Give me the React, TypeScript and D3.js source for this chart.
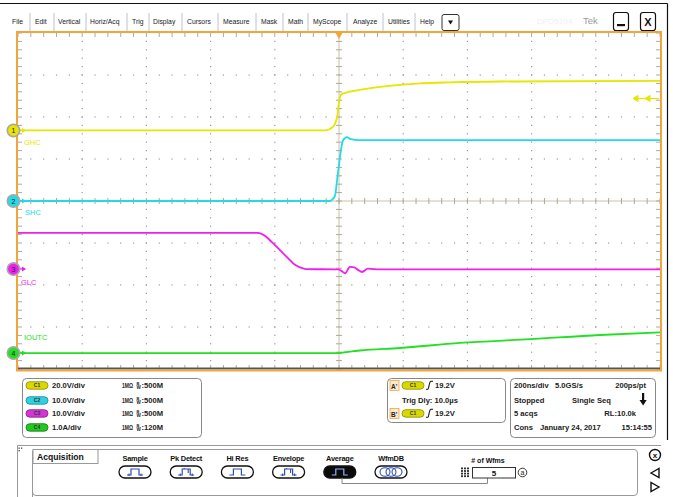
import React from "react";
import * as d3 from "d3";

// ---------------- DATA ----------------
const menuItems = ["File", "Edit", "Vertical", "Horiz/Acq", "Trig", "Display", "Cursors", "Measure", "Mask", "Math", "MyScope", "Analyze", "Utilities", "Help"];

// time in ns relative to trigger (200 ns/div)
const c1Time = [-1000, -44, -19, -6, 0, 6, 19, 65, 128, 190, 252, 346, 502, 1000];
const c1Volts = [0, 0, 1.7, 6.4, 13.6, 16.9, 17.9, 19.3, 20.7, 21.7, 22.4, 22.9, 23.3, 23.6];

const c2Time = [-1000, -28, -19, -12, -6, 0, 6, 12, 19, 25, 34, 65, 1000];
const c2Volts = [0, 0, 0.5, 1.4, 5.0, 8.6, 12.1, 14.3, 15.0, 15.2, 14.8, 14.5, 14.5];

const c3Time = [-1000, -252, -231, -209, -184, -159, -137, -121, -103, -3, 9, 19, 34, 47, 59, 72, 90, 128, 1000];
const c3Volts = [8.6, 8.6, 7.9, 6.4, 4.5, 2.6, 1.0, 0.4, 0, -0.1, -0.5, -1.0, 0.5, 0.4, -0.2, -0.7, 0.1, -0.1, -0.1];

const c4Time = [-1000, -3, 19, 65, 190, 377, 595, 813, 1000];
const c4Amps = [0, 0, 0.02, 0.06, 0.12, 0.24, 0.33, 0.43, 0.49];

const chanScale = ["20.0V/div", "10.0V/div", "10.0V/div", "1.0A/div"];
const chanImp = ["1MΩ", "1MΩ", "1MΩ", "1MΩ"];
const chanBw = [":500M", ":500M", ":500M", ":120M"];
const chanLabels = ["GHC", "SHC", "GLC", "IOUTC"];

const trigLevel = "19.2V";
const trigDelay = "Trig Dly: 10.0µs";
const horiz = ["200ns/div", "5.0GS/s", "200ps/pt", "Stopped", "Single Seq", "5 acqs", "RL:10.0k", "Cons", "January 24, 2017", "15:14:55"];
const acqModes = ["Sample", "Pk Detect", "Hi Res", "Envelope", "Average", "WfmDB"];
const numWfms = "5";

// ---------------- LAYOUT / STYLE ----------------
const W = 673, H = 497;
const PL = 18, PR = 660, PT = 33, PB = 369;
const ORANGE = "#f2a63a";
const COLORS = ["#e6e600", "#22dbe6", "#f01ef0", "#22e022"];
const PILL = ["#d9d900", "#2fd0e0", "#d436d4", "#20c820"];
const PILL_DARK = ["#8a8a00", "#148a96", "#861e86", "#137a13"];
const FONT = "'Liberation Sans', Arial, sans-serif";
const MENU_X = [12, 35, 58, 90, 132, 153, 187, 223, 261, 288, 313, 353, 388, 420];
const MENU_SEP = [30, 54, 86, 127, 149, 182, 218, 256, 283, 308, 347, 383, 415];

function Pill({ x, y, i }: { x: number; y: number; i: number }) {
  return (
    <g>
      <rect x={x} y={y - 3.5} width={22} height={7.5} rx={3.7} fill={PILL[i]} stroke={PILL_DARK[i]} strokeWidth={0.8} />
      <text x={x + 11} y={y + 2} fontSize={5} fontFamily={FONT} fontWeight="bold" textAnchor="middle" fill="#333">{`C${i + 1}`}</text>
    </g>
  );
}

function EdgeGlyph({ x, y }: { x: number; y: number }) {
  return <path d={`M${x},${y + 4} L${x + 2},${y + 4} C${x + 3},${y + 4} ${x + 3},${y - 4} ${x + 5},${y - 4} L${x + 7},${y - 4}`} fill="none" stroke="#111" strokeWidth={1.1} />;
}

function AcqIcon({ cx, cy, kind, selected }: { cx: number; cy: number; kind: number; selected: boolean }) {
  const blue = selected ? "#8fb0ff" : "#2f4fb0";
  const w = 32, h = 12;
  let icon: React.ReactNode;
  if (kind === 5) {
    icon = (
      <g fill="none" stroke={blue} strokeWidth={1.1}>
        <ellipse cx={cx - 6} cy={cy} rx={5} ry={4.2} />
        <ellipse cx={cx} cy={cy} rx={5} ry={4.2} />
        <ellipse cx={cx + 6} cy={cy} rx={5} ry={4.2} />
      </g>
    );
  } else {
    const base = cy + 3, top = cy - 3;
    const d = `M${cx - 8},${base} L${cx - 4},${base} L${cx - 4},${top} L${cx + 4},${top} L${cx + 4},${base} L${cx + 8},${base}`;
    let extra: React.ReactNode = null;
    if (kind === 0 || kind === 1 || kind === 3) {
      extra = (
        <path d={`M${cx - 6},${base + 1} L${cx - 6},${base - 1.5} M${cx + 6},${base + 1} L${cx + 6},${base - 1.5} ${kind >= 1 ? `M${cx + 2},${top} L${cx + 2},${cy + 1} M${cx - 2},${top} L${cx - 2},${top - 1}` : ""}`} stroke={blue} strokeWidth={1.1} />
      );
    }
    icon = (
      <g>
        <path d={d} fill="none" stroke={blue} strokeWidth={1.2} />
        {extra}
      </g>
    );
  }
  return (
    <g>
      <rect x={cx - w / 2} y={cy - h / 2} width={w} height={h} rx={6} fill={selected ? "#0a0a0a" : "#fff"} stroke="#111" strokeWidth={1.3} />
      {icon}
    </g>
  );
}

export default function App() {
  const x = d3.scaleLinear().domain([-1000, 1000]).range([PL, PR]);
  const yDiv = d3.scaleLinear().domain([-4, 4]).range([PB, PT]);

  const channels = [
    { t: c1Time, v: c1Volts, perDiv: 20, off: 1.68 },
    { t: c2Time, v: c2Volts, perDiv: 10, off: 0 },
    { t: c3Time, v: c3Volts, perDiv: 10, off: -1.62 },
    { t: c4Time, v: c4Amps, perDiv: 1, off: -3.62 },
  ];

  const xDiv = d3.scaleLinear().domain([-5, 5]).range([PL, PR]);
  const majorX = d3.range(-5, 6).map((d) => xDiv(d));
  const majorY = d3.range(-4, 5).map((d) => yDiv(d));
  const minorX = d3.range(-25, 26).map((d) => xDiv(d / 5));
  const minorY = d3.range(-20, 21).map((d) => yDiv(d / 5));
  const cx0 = xDiv(0), cy0 = yDiv(0);

  const dots: React.ReactNode[] = [];
  majorY.forEach((yy, i) => {
    if (i === 0 || i === majorY.length - 1 || Math.abs(yy - cy0) < 1) return;
    minorX.forEach((xx, j) => {
      if (j === 0 || j === minorX.length - 1) return;
      dots.push(<rect key={`hy${i}-${j}`} x={xx - 0.6} y={yy - 0.6} width={1.2} height={1.2} fill="#9a9a9a" />);
    });
  });
  majorX.forEach((xx, i) => {
    if (i === 0 || i === majorX.length - 1 || Math.abs(xx - cx0) < 1) return;
    minorY.forEach((yy, j) => {
      if (j === 0 || j === minorY.length - 1) return;
      dots.push(<rect key={`vx${i}-${j}`} x={xx - 0.6} y={yy - 0.6} width={1.2} height={1.2} fill="#9a9a9a" />);
    });
  });

  const rowY = [388, 403, 416, 430];

  return (
    <svg width={W} height={H} viewBox={`0 0 ${W} ${H}`} style={{ position: "fixed", left: 0, top: 0, background: "#fff" }} fontFamily={FONT}>
      <rect x={0} y={0} width={W} height={H} fill="#fff" />
      {/* window frame */}
      <line x1={0} y1={3.5} x2={667.5} y2={3.5} stroke="#111" strokeWidth={1.2} />
      <line x1={667.5} y1={3.5} x2={667.5} y2={440} stroke="#111" strokeWidth={1.2} />

      {/* menu */}
      {menuItems.map((m, i) => (
        <text key={m} x={MENU_X[i]} y={24} fontSize={6.8} fill="#222">{m}</text>
      ))}
      {MENU_SEP.map((s, i) => (
        <line key={`sep${i}`} x1={s} y1={13} x2={s} y2={31} stroke="#b8c4d0" strokeWidth={1} />
      ))}
      <rect x={442} y={14.5} width={17} height={16} rx={2} fill="#fff" stroke="#333" strokeWidth={1} />
      <path d="M448,20.5 L453,20.5 L450.5,24.5 Z" fill="#111" />
      <text x={537} y={24} fontSize={8} fill="#f0f0f0">DPO5104</text>
      <text x={583} y={24} fontSize={9.5} fill="#9a9a9a">Tek</text>
      <rect x={613.5} y={12.5} width={15} height={18} rx={2.5} fill="#fff" stroke="#111" strokeWidth={1.2} />
      <rect x={617} y={24} width={8} height={2.2} fill="#111" />
      <rect x={640.5} y={12.5} width={15} height={18} rx={2.5} fill="#fff" stroke="#111" strokeWidth={1.2} />
      <text x={648} y={26} fontSize={11} fontWeight="bold" textAnchor="middle" fill="#111">X</text>

      {/* graticule */}
      {dots}
      <line x1={cx0} y1={PT} x2={cx0} y2={PB} stroke="#c9c2b2" strokeWidth={1} />
      <line x1={PL} y1={cy0} x2={PR} y2={cy0} stroke="#c9c2b2" strokeWidth={1} />
      {minorY.map((yy, j) => (
        <line key={`ct${j}`} x1={cx0 - 3} y1={yy} x2={cx0 + 3} y2={yy} stroke="#b0a890" strokeWidth={1} />
      ))}
      {minorX.map((xx, j) => (
        <line key={`ch${j}`} x1={xx} y1={cy0 - 3} x2={xx} y2={cy0 + 3} stroke="#b0a890" strokeWidth={1} />
      ))}
      {minorX.map((xx, j) => (
        <g key={`et${j}`}>
          <line x1={xx} y1={PT} x2={xx} y2={PT + 4} stroke="#aaa" strokeWidth={1} />
          <line x1={xx} y1={PB} x2={xx} y2={PB - 4} stroke="#aaa" strokeWidth={1} />
        </g>
      ))}
      {minorY.map((yy, j) => (
        <g key={`el${j}`}>
          <line x1={PL} y1={yy} x2={PL + 4} y2={yy} stroke="#aaa" strokeWidth={1} />
          <line x1={PR} y1={yy} x2={PR - 4} y2={yy} stroke="#aaa" strokeWidth={1} />
        </g>
      ))}

      {/* traces */}
      {channels.map((c, i) => {
        const line = d3
          .line<number>()
          .x((_, k) => x(c.t[k]))
          .y((v) => yDiv(v / c.perDiv + c.off))
          .curve(d3.curveMonotoneX);
        return <path key={`tr${i}`} d={line(c.v) || ""} fill="none" stroke={COLORS[i]} strokeWidth={1.8} strokeLinejoin="round" />;
      })}

      {/* frame */}
      <line x1={PL} y1={PB - 0.5} x2={PR} y2={PB - 0.5} stroke="#555" strokeWidth={2} />
      <rect x={PL - 1} y={PT - 1} width={PR - PL + 2} height={PB - PT + 2.5} fill="none" stroke={ORANGE} strokeWidth={2} />

      {/* trigger position marker */}
      <path d={`M${x(0) - 3.5},${PT} L${x(0) + 3.5},${PT} L${x(0)},${PT + 6} Z`} fill={ORANGE} />
      {/* trigger level arrows */}
      <g fill={COLORS[0]} stroke={COLORS[0]}>
        <line x1={634} y1={98.5} x2={PR - 1} y2={98.5} strokeWidth={1.2} />
        <path d="M633,98.5 L638,95.5 L638,101.5 Z" />
        <path d="M645,98.5 L650,95.5 L650,101.5 Z" />
      </g>

      {/* channel markers */}
      {channels.map((c, i) => {
        const yy = yDiv(c.off);
        return (
          <g key={`mk${i}`}>
            <line x1={18} y1={yy} x2={25} y2={yy} stroke={COLORS[i]} strokeWidth={1.2} />
            <path d={`M22,${yy - 2.5} L26,${yy} L22,${yy + 2.5} Z`} fill={COLORS[i]} />
            <circle cx={13.5} cy={yy} r={6.2} fill={COLORS[i]} stroke="#a8a8a8" strokeWidth={1.6} />
            <text x={13.5} y={yy + 2.6} fontSize={7} textAnchor="middle" fill="#222">{i + 1}</text>
          </g>
        );
      })}
      <text x={24} y={145} fontSize={7.5} fill={COLORS[0]}>{chanLabels[0]}</text>
      <text x={25} y={214.5} fontSize={7.5} fill={COLORS[1]}>{chanLabels[1]}</text>
      <text x={21} y={284.5} fontSize={7.5} fill={COLORS[2]}>{chanLabels[2]}</text>
      <text x={24} y={340} fontSize={7.5} fill={COLORS[3]}>{chanLabels[3]}</text>

      {/* channel panel */}
      <rect x={22.5} y={378.5} width={179} height={59} rx={4} fill="#fff" stroke="#888" strokeWidth={1} />
      {chanScale.map((s, i) => (
        <g key={`cp${i}`} fontSize={7.6} fontWeight="bold" fill="#222">
          <Pill x={26} y={rowY[i] - 2.8} i={i} />
          <text x={52} y={rowY[i]}>{s}</text>
          <text x={122} y={rowY[i]} fontSize={6.8} textLength={11} lengthAdjust="spacingAndGlyphs">{chanImp[i]}</text>
          <text x={136.5} y={rowY[i] - 3} fontSize={4}>B</text>
          <text x={136.5} y={rowY[i] + 0.5} fontSize={4.6}>W</text>
          <text x={141.5} y={rowY[i]}>{chanBw[i]}</text>
        </g>
      ))}

      {/* trigger panel */}
      <rect x={387.5} y={378.5} width={118} height={44} rx={4} fill="#fff" stroke="#888" strokeWidth={1} />
      <g fontSize={7.6} fontWeight="bold" fill="#222">
        <rect x={390} y={380.5} width={9} height={10} fill="#fde9cf" stroke={ORANGE} strokeWidth={0.8} />
        <text x={391} y={388.5} fontSize={6.5}>A'</text>
        <Pill x={402} y={385.2} i={0} />
        <EdgeGlyph x={426} y={385.2} />
        <text x={435} y={rowY[0]}>{trigLevel}</text>
        <text x={402} y={rowY[1]}>{trigDelay}</text>
        <rect x={390} y={408.5} width={9} height={10} fill="#fde9cf" stroke={ORANGE} strokeWidth={0.8} />
        <text x={391} y={416.5} fontSize={6.5}>B'</text>
        <Pill x={402} y={413.2} i={0} />
        <EdgeGlyph x={426} y={413.2} />
        <text x={435} y={rowY[2]}>{trigLevel}</text>
      </g>

      {/* horizontal panel */}
      <rect x={510.5} y={378.5} width={145} height={59} rx={4} fill="#fff" stroke="#888" strokeWidth={1} />
      <g fontSize={7.6} fontWeight="bold" fill="#222">
        <text x={514} y={rowY[0]}>{horiz[0]}</text>
        <text x={555} y={rowY[0]}>{horiz[1]}</text>
        <text x={646} y={rowY[0]} textAnchor="end">{horiz[2]}</text>
        <text x={514} y={rowY[1]}>{horiz[3]}</text>
        <text x={572} y={rowY[1]}>{horiz[4]}</text>
        <text x={514} y={rowY[2]}>{horiz[5]}</text>
        <text x={636} y={rowY[2]} textAnchor="end">{horiz[6]}</text>
        <text x={514} y={rowY[3]}>{horiz[7]}</text>
        <text x={540} y={rowY[3]}>{horiz[8]}</text>
        <text x={652} y={rowY[3]} textAnchor="end">{horiz[9]}</text>
      </g>
      <rect x={642} y={393} width={2.2} height={8} fill="#111" />
      <path d="M639.5,400 L646.7,400 L643.1,405.5 Z" fill="#111" />

      {/* acquisition panel */}
      <line x1={17.5} y1={445.5} x2={661} y2={445.5} stroke="#999" strokeWidth={1} />
      <line x1={17.5} y1={445.5} x2={17.5} y2={497} stroke="#999" strokeWidth={1} />
      <g fill="#444">
        <rect x={18.5} y={447.5} width={1.3} height={1.3} />
        <rect x={18.5} y={450} width={1.3} height={1.3} />
        <rect x={21} y={447.5} width={1.3} height={1.3} />
      </g>
      <path d="M32.5,497 L32.5,452 Q32.5,449.5 35,449.5 L634,449.5 Q637.5,449.5 637.5,453 L637.5,492 Q637.5,495.5 634,495.5 L36,495.5 Q32.5,495.5 32.5,492" fill="none" stroke="#999" strokeWidth={1} />
      <rect x={33} y={449.5} width={65} height={14} fill="#fff" stroke="#999" strokeWidth={1} />
      <text x={37} y={460} fontSize={8.6} fontWeight="bold" fill="#111">Acquisition</text>
      {acqModes.map((m, i) => {
        const cx = 135 + i * 51.2;
        return (
          <g key={m}>
            <text x={cx} y={461} fontSize={7.4} fontWeight="bold" textAnchor="middle" fill="#111" letterSpacing={-0.2}>{m}</text>
            <AcqIcon cx={cx} cy={472} kind={i} selected={i === 4} />
          </g>
        );
      })}
      <path d="M342,478 L342,483.5 L487.5,483.5 L487.5,478" fill="none" stroke="#888" strokeWidth={1} />
      <text x={488} y={463} fontSize={7} fontWeight="bold" textAnchor="middle" fill="#111">{"# of Wfms"}</text>
      <g fill="#333">
        {d3.range(4).map((r) =>
          d3.range(3).map((c) => <rect key={`g${r}${c}`} x={461 + c * 3} y={467.5 + r * 2.6} width={2} height={1.8} />)
        )}
      </g>
      <rect x={472.5} y={467.5} width={43} height={10.5} fill="#fff" stroke="#333" strokeWidth={1} />
      <text x={494} y={476} fontSize={8} fontWeight="bold" textAnchor="middle" fill="#111">{numWfms}</text>
      <circle cx={522.5} cy={472.5} r={4.3} fill="none" stroke="#222" strokeWidth={0.9} />
      <text x={522.5} y={475} fontSize={7} textAnchor="middle" fill="#222">a</text>
      {/* right controls */}
      <circle cx={655} cy={455} r={5.5} fill="#fff" stroke="#111" strokeWidth={1.4} />
      <text x={655} y={458} fontSize={8} fontWeight="bold" textAnchor="middle" fill="#111">x</text>
      <path d="M651,473 L659,468.5 L659,477.5 Z" fill="#fff" stroke="#111" strokeWidth={1.4} />
      <path d="M659,487 L651,482.5 L651,491.5 Z" fill="#fff" stroke="#111" strokeWidth={1.4} />
    </svg>
  );
}
